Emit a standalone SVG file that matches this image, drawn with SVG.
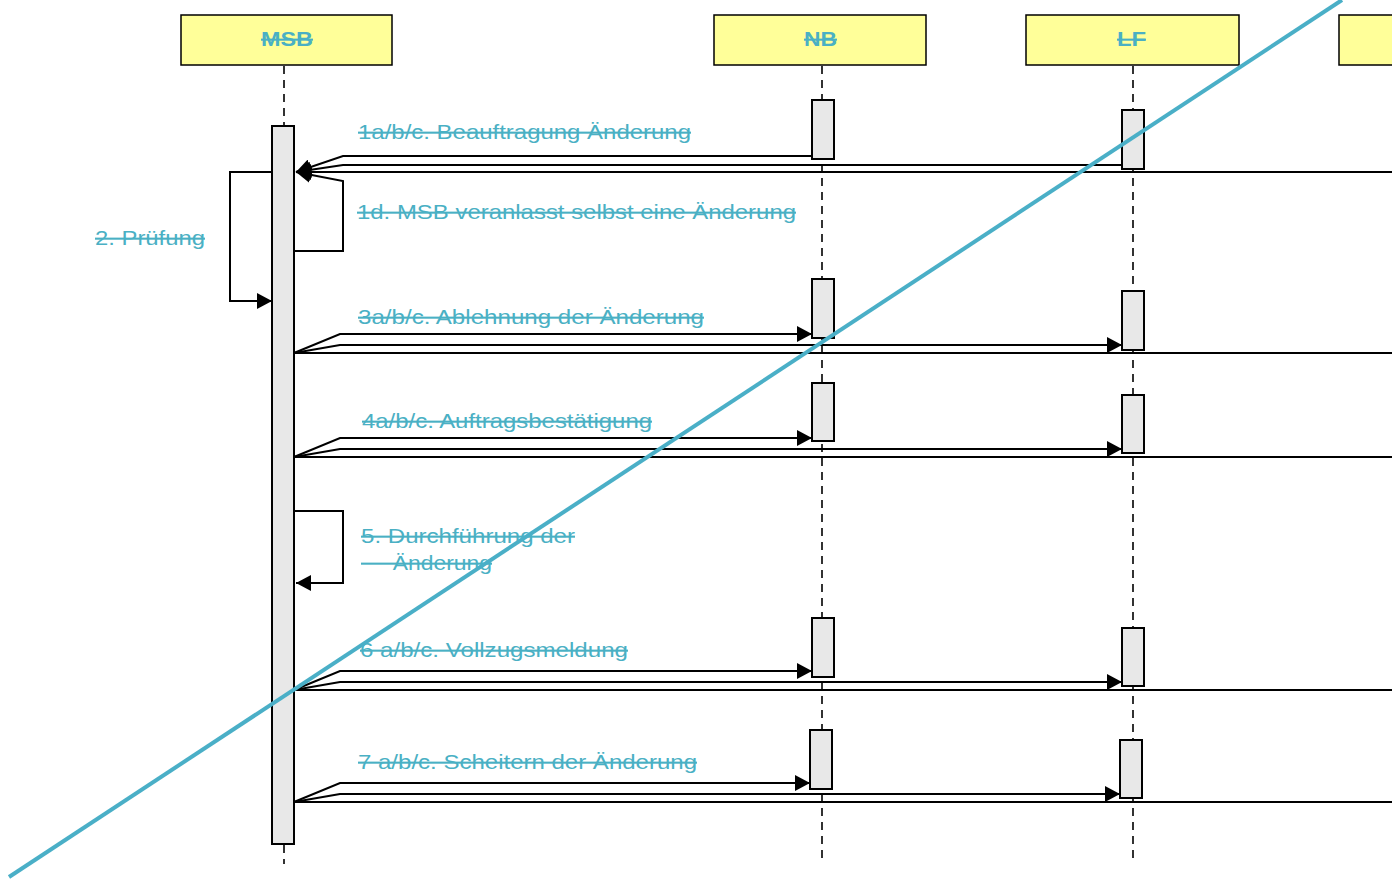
<svg xmlns="http://www.w3.org/2000/svg" width="1392" height="879" viewBox="0 0 1392 879">
<defs>
<style>
.hdr{fill:#FFFF99;stroke:#000;stroke-width:1.5}
.life{stroke:#000;stroke-width:1.6;stroke-dasharray:8,6;fill:none}
.act{fill:#E8E8E8;stroke:#000;stroke-width:2}
.msg{fill:none;stroke:#000;stroke-width:2}
.lbl{font-family:"Liberation Sans",Arial,sans-serif;font-size:21px;fill:#4AB0C4;text-decoration:line-through}
.hl{font-family:"Liberation Sans",Arial,sans-serif;font-size:21px;font-weight:bold;fill:#4AB0C4;text-decoration:line-through}
</style>
<marker id="ah" viewBox="0 0 15 16" refX="15" refY="8" markerWidth="15" markerHeight="16" markerUnits="userSpaceOnUse" orient="auto">
<path d="M0,0 L15,8 L0,16 z" fill="#000"/>
</marker>
</defs>
<rect width="1392" height="879" fill="#fff"/>
<g id="lifelines">
<line class="life" x1="284" y1="66" x2="284" y2="126"/>
<line class="life" x1="284" y1="845" x2="284" y2="864"/>
<line class="life" x1="822" y1="66" x2="822" y2="864"/>
<line class="life" x1="1133" y1="66" x2="1133" y2="864"/>
</g>
<g id="msb">
<rect class="hdr" x="181" y="15" width="211" height="50"/>
<text class="hl" x="261" y="46" textLength="52" lengthAdjust="spacingAndGlyphs">MSB</text>
</g>
<g id="nb">
<rect class="hdr" x="714" y="15" width="212" height="50"/>
<text class="hl" x="804" y="46" textLength="33" lengthAdjust="spacingAndGlyphs">NB</text>
</g>
<g id="lf">
<rect class="hdr" x="1026" y="15" width="213" height="50"/>
<text class="hl" x="1117" y="46" textLength="29" lengthAdjust="spacingAndGlyphs">LF</text>
</g>
<g id="fourth">
<rect class="hdr" x="1339" y="15" width="80" height="50"/>
</g>
<g id="activations">
<rect class="act" x="272" y="126" width="22" height="718"/>
<rect class="act" x="812" y="100" width="22" height="59"/>
<rect class="act" x="1122" y="110" width="22" height="59"/>
<rect class="act" x="812" y="279" width="22" height="59"/>
<rect class="act" x="1122" y="291" width="22" height="59"/>
<rect class="act" x="812" y="383" width="22" height="58"/>
<rect class="act" x="1122" y="395" width="22" height="58"/>
<rect class="act" x="812" y="618" width="22" height="59"/>
<rect class="act" x="1122" y="628" width="22" height="58"/>
<rect class="act" x="810" y="730" width="22" height="59"/>
<rect class="act" x="1120" y="740" width="22" height="58"/>
</g>
<g id="connectors">
<polyline class="msg" points="812,156 343,156 296,172" marker-end="url(#ah)"/>
<polyline class="msg" points="1122,165 343,165 296,172" marker-end="url(#ah)"/>
<polyline class="msg" points="1392,172 296,172" marker-end="url(#ah)"/>
<polyline class="msg" points="294,251 343,251 343,181 296,172" marker-end="url(#ah)"/>
<polyline class="msg" points="272,172 230,172 230,301 272,301" marker-end="url(#ah)"/>
<polyline class="msg" points="294,353 340,334 812,334" marker-end="url(#ah)"/>
<polyline class="msg" points="294,353 340,345 1122,345" marker-end="url(#ah)"/>
<polyline class="msg" points="294,353 1392,353"/>
<polyline class="msg" points="294,457 340,438 812,438" marker-end="url(#ah)"/>
<polyline class="msg" points="294,457 340,449 1122,449" marker-end="url(#ah)"/>
<polyline class="msg" points="294,457 1392,457"/>
<polyline class="msg" points="294,511 343,511 343,583 296,583" marker-end="url(#ah)"/>
<polyline class="msg" points="294,690 340,671 812,671" marker-end="url(#ah)"/>
<polyline class="msg" points="294,690 340,682 1122,682" marker-end="url(#ah)"/>
<polyline class="msg" points="294,690 1392,690"/>
<polyline class="msg" points="294,802 340,783 810,783" marker-end="url(#ah)"/>
<polyline class="msg" points="294,802 340,794 1120,794" marker-end="url(#ah)"/>
<polyline class="msg" points="294,802 1392,802"/>
</g>
<g id="labels">
<text class="lbl" x="358" y="139" textLength="333" lengthAdjust="spacingAndGlyphs">1a/b/c. Beauftragung Änderung</text>
<text class="lbl" x="357" y="219" textLength="439" lengthAdjust="spacingAndGlyphs">1d. MSB veranlasst selbst eine Änderung</text>
<text class="lbl" x="95" y="245" textLength="110" lengthAdjust="spacingAndGlyphs">2. Prüfung</text>
<text class="lbl" x="358" y="324" textLength="346" lengthAdjust="spacingAndGlyphs">3a/b/c. Ablehnung der Änderung</text>
<text class="lbl" x="362" y="428" textLength="290" lengthAdjust="spacingAndGlyphs">4a/b/c. Auftragsbestätigung</text>
<text class="lbl" x="361" y="543" textLength="214" lengthAdjust="spacingAndGlyphs">5. Durchführung der</text>
<text class="lbl" x="361" y="570" xml:space="preserve" textLength="131" lengthAdjust="spacingAndGlyphs">     Änderung</text>
<text class="lbl" x="360" y="657" textLength="268" lengthAdjust="spacingAndGlyphs">6 a/b/c. Vollzugsmeldung</text>
<text class="lbl" x="358" y="769" textLength="339" lengthAdjust="spacingAndGlyphs">7 a/b/c. Scheitern der Änderung</text>
</g>
<line id="cross" x1="9" y1="877" x2="1342" y2="0" stroke="#4AAFC7" stroke-width="4"/>
</svg>
